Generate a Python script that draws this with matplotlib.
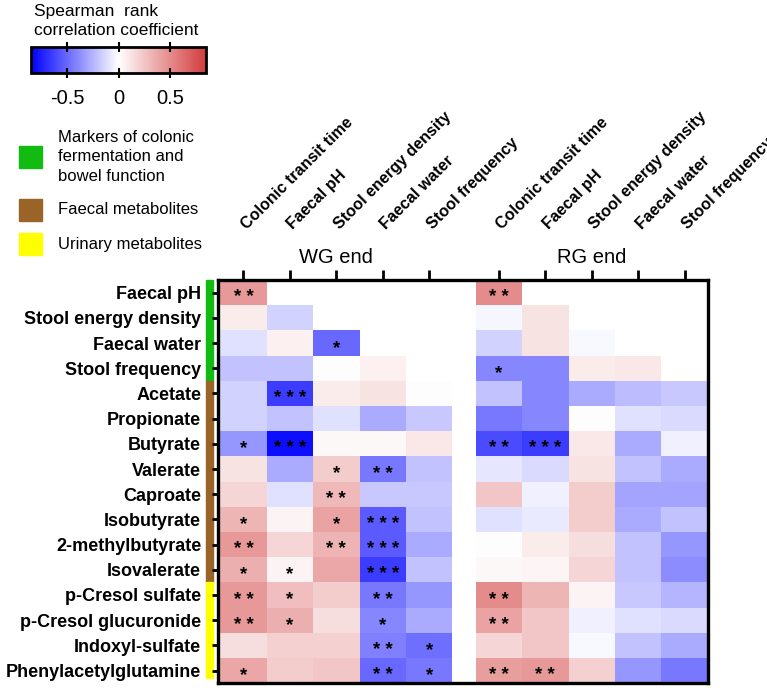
import numpy as np
import matplotlib
matplotlib.use("Agg")
import matplotlib.pyplot as plt
from matplotlib.colors import LinearSegmentedColormap, Normalize
from matplotlib.patches import Rectangle
import matplotlib.transforms as mtransforms

plt.rcParams['font.family'] = ['Liberation Sans', 'DejaVu Sans']

# data
rows = ["Faecal pH", "Stool energy density", "Faecal water", "Stool frequency",
        "Acetate", "Propionate", "Butyrate", "Valerate", "Caproate", "Isobutyrate",
        "2-methylbutyrate", "Isovalerate", "p-Cresol sulfate", "p-Cresol glucuronide",
        "Indoxyl-sulfate", "Phenylacetylglutamine"]
cols = ["Colonic transit time", "Faecal pH", "Stool energy density", "Faecal water",
        "Stool frequency"]
groups = ["WG end", "RG end"]
nan = np.nan
wg_rho = [
    [0.45, nan, nan, nan, nan],
    [0.08, -0.15, nan, nan, nan],
    [-0.10, 0.06, -0.50, nan, nan],
    [-0.20, -0.20, 0.01, 0.06, nan],
    [-0.15, -0.65, 0.08, 0.12, 0.01],
    [-0.15, -0.20, -0.10, -0.28, -0.18],
    [-0.35, -0.80, 0.03, 0.03, 0.10],
    [0.12, -0.28, 0.22, -0.45, -0.20],
    [0.18, -0.10, 0.30, -0.18, -0.18],
    [0.32, 0.05, 0.40, -0.55, -0.20],
    [0.45, 0.18, 0.33, -0.55, -0.28],
    [0.35, 0.05, 0.38, -0.65, -0.20],
    [0.45, 0.28, 0.22, -0.45, -0.35],
    [0.45, 0.35, 0.14, -0.40, -0.28],
    [0.14, 0.20, 0.20, -0.42, -0.48],
    [0.38, 0.22, 0.25, -0.50, -0.45],
]
rg_rho = [
    [0.50, nan, nan, nan, nan],
    [-0.03, 0.12, nan, nan, nan],
    [-0.15, 0.12, -0.02, nan, nan],
    [-0.40, -0.40, 0.08, 0.10, nan],
    [-0.20, -0.40, -0.28, -0.22, -0.18],
    [-0.45, -0.40, 0.01, -0.10, -0.12],
    [-0.60, -0.65, 0.10, -0.28, -0.05],
    [-0.08, -0.12, 0.12, -0.20, -0.28],
    [0.25, -0.05, 0.22, -0.30, -0.30],
    [-0.10, -0.07, 0.22, -0.28, -0.20],
    [0.01, 0.08, 0.14, -0.20, -0.35],
    [0.03, 0.04, 0.18, -0.20, -0.38],
    [0.50, 0.32, 0.05, -0.18, -0.25],
    [0.40, 0.25, -0.05, -0.10, -0.12],
    [0.18, 0.25, -0.02, -0.20, -0.28],
    [0.42, 0.45, 0.20, -0.35, -0.45],
]
wg_sig = [
    ["**", "", "", "", ""],
    ["", "", "", "", ""],
    ["", "", "*", "", ""],
    ["", "", "", "", ""],
    ["", "***", "", "", ""],
    ["", "", "", "", ""],
    ["*", "***", "", "", ""],
    ["", "", "*", "**", ""],
    ["", "", "**", "", ""],
    ["*", "", "*", "***", ""],
    ["**", "", "**", "***", ""],
    ["*", "*", "", "***", ""],
    ["**", "*", "", "**", ""],
    ["**", "*", "", "*", ""],
    ["", "", "", "**", "*"],
    ["*", "", "", "**", "*"],
]
rg_sig = [
    ["**", "", "", "", ""],
    ["", "", "", "", ""],
    ["", "", "", "", ""],
    ["*", "", "", "", ""],
    ["", "", "", "", ""],
    ["", "", "", "", ""],
    ["**", "***", "", "", ""],
    ["", "", "", "", ""],
    ["", "", "", "", ""],
    ["", "", "", "", ""],
    ["", "", "", "", ""],
    ["", "", "", "", ""],
    ["**", "", "", "", ""],
    ["**", "", "", "", ""],
    ["", "", "", "", ""],
    ["**", "**", "", "", ""],
]
legend_names = ["Markers of colonic\nfermentation and\nbowel function",
                "Faecal metabolites", "Urinary metabolites"]
legend_colors = ["#11BB11", "#9A6428", "#FFFF00"]
# row spans of the side bars (start, end in row units)
side_spans = [(-0.5, 3.5), (3.5, 11.5), (11.5, 15.3)]

cmap = LinearSegmentedColormap.from_list("bwr2", ["#0000FF", "#FFFFFF", "#D23C3C"])
norm = Normalize(vmin=-0.85, vmax=0.85)

fig = plt.figure(figsize=(7.67, 6.88), dpi=100)
ax = fig.add_axes([0.284, 0.007, 0.639, 0.586])

nr = len(rows)
offsets = [0, 5.5]
for data, sig, off in zip([wg_rho, rg_rho], [wg_sig, rg_sig], offsets):
    arr = np.ma.masked_invalid(np.array(data, dtype=float))
    xe = np.arange(6) - 0.5 + off
    ye = np.arange(nr + 1) - 0.5
    ax.pcolormesh(xe, ye, arr, cmap=cmap, norm=norm)
    for i in range(nr):
        for j in range(5):
            if sig[i][j]:
                ax.text(j + off, i + 0.38, " ".join(sig[i][j]), ha='center',
                        va='baseline', fontsize=13.5, fontweight='bold')

ax.set_xlim(-0.55, 10.0)
ax.set_ylim(nr - 0.5, -0.5)
xt = [j + off for off in offsets for j in range(5)]
ax.set_xticks(xt)
ax.set_xticklabels([])
ax.xaxis.set_ticks_position('top')
ax.tick_params(axis='x', length=7, width=2, direction='out')
ax.set_yticks(range(nr))
ax.set_yticklabels(rows, fontsize=13, fontweight='bold')
ax.tick_params(axis='y', length=4, width=2, pad=8)
for s in ax.spines.values():
    s.set_linewidth(2.4)

trans = mtransforms.blended_transform_factory(ax.transData, ax.transAxes)
for off in offsets:
    for j, c in enumerate(cols):
        ax.text(j + off + 0.12, 1.12, c, rotation=45, rotation_mode='anchor',
                ha='left', va='bottom', fontsize=11.6, fontweight='bold',
                transform=trans)
for off, g in zip(offsets, groups):
    ax.text(off + 2, 1.055, g, ha='center', va='center', fontsize=14.5,
            transform=trans)

# side colour bars
trans_y = mtransforms.blended_transform_factory(ax.transAxes, ax.transData)
for (y0, y1), col in zip(side_spans, legend_colors):
    ax.add_patch(Rectangle((-0.025, y0), 0.0145, y1 - y0, color=col,
                           transform=trans_y, clip_on=False))

# colour bar
cax = fig.add_axes([0.0405, 0.894, 0.228, 0.038])
sm = plt.cm.ScalarMappable(norm=norm, cmap=cmap)
cb = fig.colorbar(sm, cax=cax, orientation='horizontal', ticks=[-0.5, 0, 0.5])
cb.ax.set_xticklabels(["-0.5", "0", "0.5"], fontsize=14.5)
cb.ax.tick_params(axis='x', direction='inout', length=7, width=1.5, top=True, pad=8)
cb.outline.set_linewidth(2)
fig.text(0.044, 0.994, "Spearman  rank\ncorrelation coefficient", ha='left', va='top',
         fontsize=12.5, linespacing=1.3)

# group legend
leg_y = [0.772, 0.695, 0.645]
for y, name, col in zip(leg_y, legend_names, legend_colors):
    fig.add_artist(Rectangle((0.025, y - 0.016), 0.030, 0.032, color=col,
                             transform=fig.transFigure))
    fig.text(0.075, y, name, ha='left', va='center', fontsize=12, linespacing=1.35)

fig.savefig("out.png", dpi=100)
